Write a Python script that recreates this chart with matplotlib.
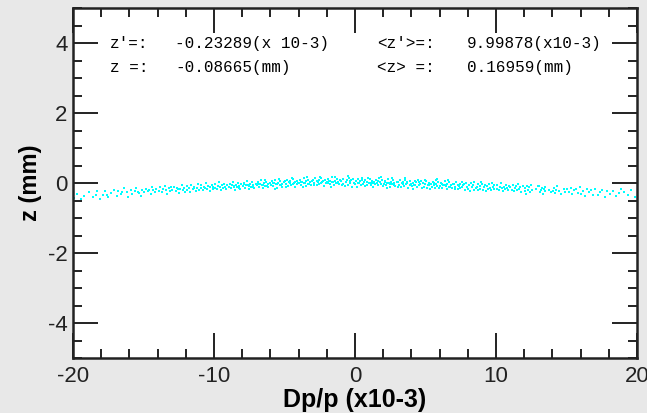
import matplotlib
matplotlib.use("Agg")
import matplotlib.pyplot as plt
from matplotlib.ticker import MultipleLocator

# particle cloud: (Dp/p x1e-3, z in mm)
particles = [
    (-19.9, -0.42), (-19.7, -0.30), (-19.4, -0.47), (-19.2, -0.36),
    (-18.9, -0.27), (-18.6, -0.40), (-18.4, -0.33), (-18.1, -0.45), (-18.3, -0.22),
    (-17.9, -0.35), (-17.7, -0.24), (-17.5, -0.41), (-17.3, -0.29), (-17.1, -0.19), (-17.6, -0.33),
    (-16.9, -0.36), (-16.8, -0.22), (-16.6, -0.30), (-16.4, -0.15), (-16.2, -0.27), (-16.1, -0.39), (-16.5, -0.25),
    (-15.9, -0.20), (-15.8, -0.31), (-15.6, -0.24), (-15.5, -0.13), (-15.3, -0.28), (-15.2, -0.37), (-15.1, -0.21),
    (-15.4, -0.26),
    (-14.95, -0.27), (-14.8, -0.17), (-14.7, -0.23), (-14.5, -0.32), (-14.4, -0.12), (-14.3, -0.21), (-14.2, -0.26),
    (-14.1, -0.18), (-14.6, -0.20),
    (-13.9, -0.22), (-13.8, -0.12), (-13.7, -0.27), (-13.6, -0.17), (-13.5, -0.08), (-13.4, -0.20), (-13.3, -0.30),
    (-13.2, -0.15), (-13.1, -0.23), (-13.05, -0.11),
    (-12.95, -0.19), (-12.85, -0.10), (-12.7, -0.24), (-12.6, -0.14), (-12.5, -0.28), (-12.4, -0.17), (-12.3, -0.06),
    (-12.2, -0.21), (-12.1, -0.13), (-12.05, -0.25), (-12.55, -0.18),
    (-11.95, -0.09), (-11.9, -0.20), (-11.8, -0.14), (-11.7, -0.26), (-11.6, -0.05), (-11.5, -0.16), (-11.4, -0.11),
    (-11.3, -0.22), (-11.2, -0.15), (-11.1, -0.03), (-11.05, -0.19), (-11.45, -0.13),
    (-10.95, -0.15), (-10.9, -0.07), (-10.8, -0.20), (-10.7, -0.12), (-10.6, -0.01), (-10.5, -0.17), (-10.45, -0.09),
    (-10.3, -0.24), (-10.25, -0.12), (-10.15, -0.05), (-10.1, -0.18), (-10.05, -0.10), (-10.65, -0.14),
    (-9.95, -0.13), (-9.9, -0.04), (-9.8, -0.17), (-9.75, -0.09), (-9.65, 0.02), (-9.6, -0.12), (-9.5, -0.21),
    (-9.45, -0.07), (-9.35, -0.14), (-9.3, -0.02), (-9.2, -0.10), (-9.15, -0.18), (-9.05, -0.06), (-9.55, -0.11),
    (-8.95, -0.11), (-8.9, -0.02), (-8.8, -0.15), (-8.75, -0.07), (-8.65, 0.04), (-8.6, -0.09), (-8.5, -0.19),
    (-8.45, -0.05), (-8.35, -0.12), (-8.3, 0.00), (-8.2, -0.08), (-8.15, -0.16), (-8.05, -0.04), (-8.55, -0.10),
    (-8.25, -0.13),
    (-7.95, -0.09), (-7.9, 0.01), (-7.8, -0.13), (-7.75, -0.05), (-7.65, 0.06), (-7.6, -0.07), (-7.5, -0.17),
    (-7.45, -0.03), (-7.35, -0.10), (-7.3, 0.02), (-7.2, -0.06), (-7.15, -0.14), (-7.05, -0.02), (-7.55, -0.08),
    (-7.25, -0.11), (-7.85, -0.04),
    (-6.95, -0.07), (-6.9, 0.03), (-6.8, -0.11), (-6.75, -0.03), (-6.65, 0.08), (-6.6, -0.05), (-6.5, -0.15),
    (-6.45, -0.01), (-6.35, -0.08), (-6.3, 0.04), (-6.2, -0.04), (-6.15, -0.12), (-6.05, 0.00), (-6.55, -0.06),
    (-6.25, -0.09), (-6.85, -0.02), (-6.4, 0.10),
    (-5.95, -0.05), (-5.9, 0.05), (-5.8, -0.09), (-5.75, -0.01), (-5.65, 0.10), (-5.6, -0.03), (-5.5, -0.13),
    (-5.45, 0.01), (-5.35, -0.06), (-5.3, 0.06), (-5.2, -0.02), (-5.15, -0.10), (-5.05, 0.02), (-5.55, -0.04),
    (-5.25, -0.07), (-5.85, 0.00), (-5.4, 0.12), (-5.7, -0.16),
    (-4.98, 0.05), (-4.88, -0.04), (-4.82, 0.10), (-4.72, -0.09), (-4.67, 0.02), (-4.58, 0.06), (-4.52, -0.06),
    (-4.42, 0.11), (-4.38, -0.02), (-4.28, 0.04), (-4.22, -0.12), (-4.12, 0.07), (-4.08, -0.03), (-4.62, -0.01),
    (-4.32, 0.01), (-4.92, -0.10), (-4.48, 0.15), (-4.02, 0.00),
    (-3.95, -0.01), (-3.9, 0.09), (-3.8, -0.05), (-3.75, 0.03), (-3.65, 0.14), (-3.6, 0.01), (-3.5, -0.09),
    (-3.45, 0.05), (-3.35, -0.02), (-3.3, 0.10), (-3.2, 0.02), (-3.15, -0.06), (-3.05, 0.06), (-3.55, 0.00),
    (-3.25, -0.03), (-3.85, 0.04), (-3.4, 0.16), (-3.7, -0.12),
    (-2.98, 0.08), (-2.88, -0.01), (-2.82, 0.13), (-2.72, -0.06), (-2.67, 0.05), (-2.58, 0.09), (-2.52, -0.03),
    (-2.42, 0.14), (-2.38, 0.01), (-2.28, 0.07), (-2.22, -0.09), (-2.12, 0.10), (-2.08, 0.00), (-2.62, 0.02),
    (-2.32, 0.04), (-2.92, -0.07), (-2.48, 0.18), (-2.02, 0.03),
    (-1.95, 0.01), (-1.9, 0.11), (-1.8, -0.03), (-1.75, 0.05), (-1.65, 0.16), (-1.6, 0.03), (-1.5, -0.07),
    (-1.45, 0.07), (-1.35, 0.00), (-1.3, 0.12), (-1.2, 0.04), (-1.15, -0.04), (-1.05, 0.08), (-1.55, 0.02),
    (-1.25, -0.01), (-1.85, 0.06), (-1.4, 0.18), (-1.7, -0.10),
    (-0.98, 0.06), (-0.88, -0.03), (-0.82, 0.12), (-0.72, -0.08), (-0.67, 0.04), (-0.58, 0.10), (-0.52, -0.05),
    (-0.42, 0.15), (-0.38, 0.00), (-0.28, 0.08), (-0.22, -0.10), (-0.12, 0.11), (-0.08, 0.01), (-0.62, 0.03),
    (-0.32, 0.05), (-0.92, -0.06), (-0.48, 0.19), (-0.02, -0.02),
    (0.03, -0.04), (0.09, 0.05), (0.14, -0.11), (0.22, 0.11), (0.27, 0.00), (0.36, 0.07), (0.41, -0.07),
    (0.47, 0.14), (0.56, -0.02), (0.63, 0.02), (0.69, 0.10), (0.74, -0.09), (0.83, 0.04), (0.87, -0.05),
    (0.93, 0.15), (0.97, 0.01), (0.53, 0.08), (0.19, -0.01),
    (1.04, 0.11), (1.11, -0.07), (1.16, 0.01), (1.24, 0.07), (1.31, -0.11), (1.37, 0.04), (1.44, -0.04),
    (1.51, 0.10), (1.57, 0.00), (1.66, -0.07), (1.71, 0.14), (1.77, 0.03), (1.84, -0.03), (1.89, 0.08),
    (1.96, -0.09), (1.61, 0.05), (1.26, -0.01), (1.81, 0.17),
    (2.05, -0.03), (2.1, 0.07), (2.2, -0.07), (2.25, 0.01), (2.35, 0.12), (2.4, -0.01), (2.5, -0.11),
    (2.55, 0.03), (2.65, -0.04), (2.7, 0.08), (2.8, 0.00), (2.85, -0.08), (2.95, 0.04), (2.45, -0.02),
    (2.75, -0.05), (2.15, 0.02), (2.6, 0.14), (2.3, -0.14),
    (3.02, 0.03), (3.12, -0.06), (3.18, 0.08), (3.28, -0.11), (3.33, 0.00), (3.42, 0.04), (3.48, -0.08),
    (3.58, 0.09), (3.62, -0.04), (3.72, 0.02), (3.78, -0.14), (3.88, 0.05), (3.92, -0.05), (3.38, -0.03),
    (3.68, -0.01), (3.08, -0.12), (3.52, 0.13), (3.98, -0.02),
    (4.03, -0.09), (4.09, 0.00), (4.14, -0.16), (4.22, 0.06), (4.27, -0.05), (4.36, 0.02), (4.41, -0.12),
    (4.47, 0.09), (4.56, -0.07), (4.63, -0.03), (4.69, 0.05), (4.74, -0.14), (4.83, -0.01), (4.87, -0.10),
    (4.93, 0.10), (4.97, -0.04), (4.53, 0.03), (4.19, -0.06),
    (5.04, 0.05), (5.11, -0.13), (5.16, -0.05), (5.24, 0.01), (5.31, -0.17), (5.37, -0.02), (5.44, -0.10),
    (5.51, 0.04), (5.57, -0.06), (5.66, -0.13), (5.71, 0.08), (5.77, -0.03), (5.84, -0.09), (5.89, 0.02),
    (5.96, -0.15), (5.61, -0.01), (5.26, -0.07), (5.81, 0.11),
    (6.05, -0.09), (6.1, 0.01), (6.2, -0.13), (6.25, -0.05), (6.35, 0.06), (6.4, -0.07), (6.5, -0.17),
    (6.55, -0.03), (6.65, -0.10), (6.7, 0.02), (6.8, -0.06), (6.85, -0.14), (6.95, -0.02), (6.45, -0.08),
    (6.75, -0.11), (6.15, -0.04), (6.6, 0.08),
    (7.02, -0.03), (7.12, -0.12), (7.18, 0.02), (7.28, -0.17), (7.33, -0.06), (7.42, -0.02), (7.48, -0.14),
    (7.58, 0.03), (7.62, -0.10), (7.72, -0.04), (7.78, -0.20), (7.88, -0.01), (7.92, -0.11), (7.38, -0.09),
    (7.68, -0.07), (7.08, -0.18),
    (8.03, -0.16), (8.09, -0.07), (8.14, -0.23), (8.22, -0.01), (8.27, -0.12), (8.36, -0.05), (8.41, -0.19),
    (8.47, 0.02), (8.56, -0.14), (8.63, -0.10), (8.69, -0.02), (8.74, -0.21), (8.83, -0.08), (8.87, -0.17),
    (8.93, 0.03),
    (9.04, -0.02), (9.11, -0.20), (9.16, -0.12), (9.24, -0.06), (9.31, -0.24), (9.37, -0.09), (9.44, -0.17),
    (9.51, -0.03), (9.57, -0.13), (9.66, -0.20), (9.71, 0.01), (9.77, -0.10), (9.84, -0.16), (9.89, -0.05),
    (10.05, -0.16), (10.1, -0.06), (10.2, -0.20), (10.25, -0.12), (10.35, -0.01), (10.4, -0.14), (10.5, -0.24),
    (10.55, -0.10), (10.65, -0.17), (10.7, -0.05), (10.8, -0.13), (10.85, -0.21), (10.95, -0.09),
    (11.02, -0.10), (11.12, -0.19), (11.18, -0.05), (11.28, -0.24), (11.33, -0.13), (11.42, -0.09), (11.48, -0.21),
    (11.58, -0.04), (11.62, -0.17), (11.72, -0.11), (11.78, -0.27), (11.88, -0.08),
    (12.03, -0.23), (12.09, -0.14), (12.14, -0.30), (12.22, -0.08), (12.27, -0.19), (12.36, -0.12), (12.41, -0.26),
    (12.47, -0.05), (12.56, -0.21), (12.85, -0.17), (12.95, -0.09),
    (13.04, -0.09), (13.11, -0.27), (13.16, -0.19), (13.24, -0.13), (13.31, -0.31), (13.37, -0.16), (13.44, -0.24),
    (13.51, -0.10), (13.75, -0.20), (13.9, -0.27),
    (14.05, -0.24), (14.1, -0.14), (14.2, -0.28), (14.25, -0.20), (14.35, -0.09), (14.45, -0.22), (14.6, -0.32),
    (14.8, -0.18), (14.92, -0.25),
    (15.05, -0.18), (15.18, -0.27), (15.3, -0.13), (15.42, -0.32), (15.55, -0.21), (15.68, -0.17), (15.8, -0.29),
    (15.93, -0.12),
    (16.05, -0.31), (16.2, -0.22), (16.33, -0.38), (16.47, -0.16), (16.6, -0.27), (16.75, -0.20), (16.9, -0.34),
    (17.05, -0.17), (17.22, -0.35), (17.4, -0.27), (17.55, -0.21), (17.72, -0.39), (17.9, -0.24),
    (18.1, -0.32), (18.3, -0.22), (18.5, -0.36), (18.7, -0.28), (18.9, -0.17),
    (19.1, -0.26), (19.35, -0.35), (19.6, -0.21), (19.85, -0.40),
]
dp_vals = [p[0] for p in particles]
z_vals = [p[1] for p in particles]

x_ticks = [-20, -10, 0, 10, 20]
y_ticks = [-4, -2, 0, 2, 4]

# beam statistics printed in the frame
stat_names_left = ["z'=:", "z =:"]
stat_vals_left = ["-0.23289(x 10-3)", "-0.08665(mm)"]
stat_names_right = ["<z'>=:", "<z> =:"]
stat_vals_right = ["9.99878(x10-3)", "0.16959(mm)"]

plt.rcParams['axes.unicode_minus'] = False
tick_font = ['Liberation Sans', 'DejaVu Sans']

W, H = 647, 413
fig = plt.figure(figsize=(W / 100, H / 100), dpi=100, facecolor='#e8e8e8')
ax = fig.add_axes([73 / W, 1 - 358 / H, (637 - 73) / W, (358 - 8) / H])
ax.set_facecolor('white')

ax.scatter(dp_vals, z_vals, s=4.2, marker='s', color='#00ffff', linewidths=0)

ax.set_xlim(-20, 20)
ax.set_ylim(-5, 5)
ax.set_xticks(x_ticks)
ax.set_yticks(y_ticks)
ax.xaxis.set_minor_locator(MultipleLocator(2))
ax.yaxis.set_minor_locator(MultipleLocator(0.5))
ax.tick_params(which='both', direction='in', top=True, right=True, color='#222222', width=1.4)
ax.tick_params(which='major', length=18)
ax.tick_params(which='minor', length=6.5)
ax.tick_params(axis='x', which='major', pad=6)
ax.tick_params(axis='y', which='major', pad=4)
for lbl in ax.get_xticklabels() + ax.get_yticklabels():
    lbl.set_family(tick_font)
    lbl.set_fontsize(16)
    lbl.set_color('#222222')
for sp in ax.spines.values():
    sp.set_linewidth(1.8)
    sp.set_color('#222222')

fig.text(355 / W, 1 - 400 / H, 'Dp/p (x10-3)', ha='center', va='center',
         family=tick_font, fontsize=18, fontweight='bold')
fig.text(30 / W, 1 - 183 / H, 'z (mm)', ha='center', va='center', rotation=90,
         family=tick_font, fontsize=17, fontweight='bold')

mono = ['Liberation Mono', 'DejaVu Sans Mono']
rows_y = [0.900, 0.831]
for i in range(2):
    ax.text(0.0656, rows_y[i], stat_names_left[i], transform=ax.transAxes, va='center',
            family=mono, fontsize=11.5)
    ax.text(0.181, rows_y[i], stat_vals_left[i], transform=ax.transAxes, va='center',
            family=mono, fontsize=11.5)
    ax.text(0.539, rows_y[i], stat_names_right[i], transform=ax.transAxes, va='center',
            family=mono, fontsize=11.5)
    ax.text(0.699, rows_y[i], stat_vals_right[i], transform=ax.transAxes, va='center',
            family=mono, fontsize=11.5)

fig.savefig('out.png', dpi=100, facecolor=fig.get_facecolor())
